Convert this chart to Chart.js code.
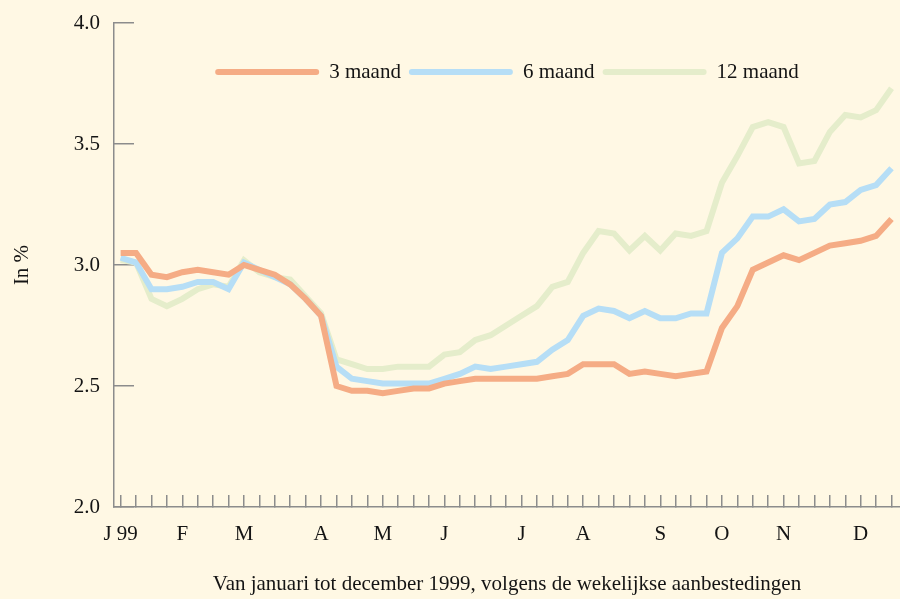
<!DOCTYPE html>
<html>
<head>
<meta charset="utf-8">
<script src="https://cdn.jsdelivr.net/npm/chart.js@4.4.1/dist/chart.umd.min.js"></script>
<style>
  html, body { margin: 0; padding: 0; background: #FFF8E4; }
  #wrap { width: 900px; height: 599px; position: relative; }
</style>
</head>
<body>
<div id="wrap"><canvas id="c" width="900" height="599"></canvas></div>
<script>
// ---- data (weekly tenders, Jan–Dec 1999) ----
const weekIndex = Array.from({length: 51}, (_, i) => i);
const monthTickPositions = [0, 4, 8, 13, 17, 21, 26, 30, 35, 39, 43, 48];
const monthLabels = ['J 99', 'F', 'M', 'A', 'M', 'J', 'J', 'A', 'S', 'O', 'N', 'D'];
const seriesNames = ['3 maand', '6 maand', '12 maand'];

const rate3m = [3.05, 3.05, 2.96, 2.95, 2.97, 2.98, 2.97, 2.96, 3.00, 2.98,
                2.96, 2.92, 2.86, 2.79, 2.50, 2.48, 2.48, 2.47, 2.48, 2.49,
                2.49, 2.51, 2.52, 2.53, 2.53, 2.53, 2.53, 2.53, 2.54, 2.55,
                2.59, 2.59, 2.59, 2.55, 2.56, 2.55, 2.54, 2.55, 2.56, 2.74,
                2.83, 2.98, 3.01, 3.04, 3.02, 3.05, 3.08, 3.09, 3.10, 3.12,
                3.19];
const rate6m = [3.03, 3.01, 2.90, 2.90, 2.91, 2.93, 2.93, 2.90, 3.01, 2.98,
                2.95, 2.92, 2.86, 2.79, 2.58, 2.53, 2.52, 2.51, 2.51, 2.51,
                2.51, 2.53, 2.55, 2.58, 2.57, 2.58, 2.59, 2.60, 2.65, 2.69,
                2.79, 2.82, 2.81, 2.78, 2.81, 2.78, 2.78, 2.80, 2.80, 3.05,
                3.11, 3.20, 3.20, 3.23, 3.18, 3.19, 3.25, 3.26, 3.31, 3.33,
                3.40];
const rate12m = [3.02, 3.01, 2.86, 2.83, 2.86, 2.90, 2.92, 2.91, 3.02, 2.97,
                 2.95, 2.94, 2.87, 2.80, 2.61, 2.59, 2.57, 2.57, 2.58, 2.58,
                 2.58, 2.63, 2.64, 2.69, 2.71, 2.75, 2.79, 2.83, 2.91, 2.93,
                 3.05, 3.14, 3.13, 3.06, 3.12, 3.06, 3.13, 3.12, 3.14, 3.34,
                 3.45, 3.57, 3.59, 3.57, 3.42, 3.43, 3.55, 3.62, 3.61, 3.64,
                 3.73];
const yTickValues = [2.0, 2.5, 3.0, 3.5, 4.0];

// ---- styling ----
const FONT = '"Liberation Serif", "Times New Roman", serif';
const TEXT = '#141414';
const AXIS = '#8c8c8c';
const colors = ['#F5AC85', '#B6DEF6', '#E5EDCB'];

const toPoints = arr => arr.map((v, i) => ({x: weekIndex[i], y: v}));

const overlayLegend = {
  id: 'overlayLegend',
  afterDatasetsDraw(chart, args, opts) {
    const {ctx, chartArea} = chart;
    ctx.save();
    ctx.font = opts.font;
    const items = chart.data.datasets.map(ds => ({
      text: ds.label, color: ds.borderColor, w: ctx.measureText(ds.label).width
    }));
    const total = items.reduce((s, it) => s + opts.lineLength + opts.gap + it.w, 0)
                  + opts.spacing * (items.length - 1);
    let x = (chartArea.left + chartArea.right) / 2 - total / 2;
    const y = chartArea.top + opts.offsetY;
    items.forEach(it => {
      ctx.strokeStyle = it.color;
      ctx.lineWidth = opts.lineWidth;
      ctx.lineCap = 'round';
      ctx.beginPath();
      ctx.moveTo(x + opts.lineWidth / 2, y);
      ctx.lineTo(x + opts.lineLength - opts.lineWidth / 2, y);
      ctx.stroke();
      x += opts.lineLength + opts.gap;
      ctx.fillStyle = opts.color;
      ctx.textBaseline = 'middle';
      ctx.textAlign = 'left';
      ctx.fillText(it.text, x, y);
      x += it.w + opts.spacing;
    });
    ctx.restore();
  }
};

const series = [rate3m, rate6m, rate12m];
new Chart(document.getElementById('c'), {
  type: 'line',
  data: {
    datasets: series.map((arr, i) => ({
      label: seriesNames[i],
      data: toPoints(arr),
      borderColor: colors[i],
      backgroundColor: colors[i],
      borderWidth: 6,
      pointRadius: 0,
      tension: 0,
      fill: false
    }))
  },
  options: {
    responsive: false,
    animation: false,
    devicePixelRatio: 1,
    layout: { autoPadding: false, padding: { top: 23, right: 0, bottom: 0, left: 0 } },
    plugins: {
      legend: { display: false },
      tooltip: { enabled: false },
      overlayLegend: {
        font: '21px ' + FONT, color: TEXT,
        lineLength: 104, lineWidth: 6, gap: 10, spacing: 8, offsetY: 49
      }
    },
    scales: {
      x: {
        type: 'linear',
        min: -0.43,
        max: 50.55,
        afterBuildTicks: s => { s.ticks = weekIndex.map(v => ({value: v})); },
        afterFit: s => { s.height = 92; s.paddingLeft = 0; s.paddingRight = 0; },
        ticks: {
          autoSkip: false, maxRotation: 0, minRotation: 0,
          padding: 27, color: TEXT, font: { family: FONT, size: 21 },
          callback: v => {
            const k = monthTickPositions.indexOf(v);
            return k >= 0 ? monthLabels[k] : '';
          }
        },
        grid: { drawOnChartArea: false, drawTicks: true, tickLength: -12, color: AXIS, lineWidth: 1.5 },
        border: { display: true, color: AXIS, width: 1.5 },
        title: {
          display: true,
          text: 'Van januari tot december 1999, volgens de wekelijkse aanbestedingen',
          color: TEXT, font: { family: FONT, size: 21 },
          padding: { top: 0, bottom: 2 }
        }
      },
      y: {
        min: 2, max: 4,
        afterBuildTicks: s => { s.ticks = yTickValues.map(v => ({value: v})); },
        afterFit: s => { s.width = 114; s.paddingTop = 0; s.paddingBottom = 0; },
        ticks: {
          padding: 34, color: TEXT, font: { family: FONT, size: 21 },
          callback: v => Number(v).toFixed(1)
        },
        grid: { drawOnChartArea: false, drawTicks: true, tickLength: -20, color: AXIS, lineWidth: 1.5 },
        border: { display: true, color: AXIS, width: 1.5 },
        title: {
          display: true, text: 'In %', color: TEXT,
          font: { family: FONT, size: 21 }, padding: { top: 10, bottom: 0 }
        }
      }
    }
  },
  plugins: [overlayLegend]
});
</script>
</body>
</html>
